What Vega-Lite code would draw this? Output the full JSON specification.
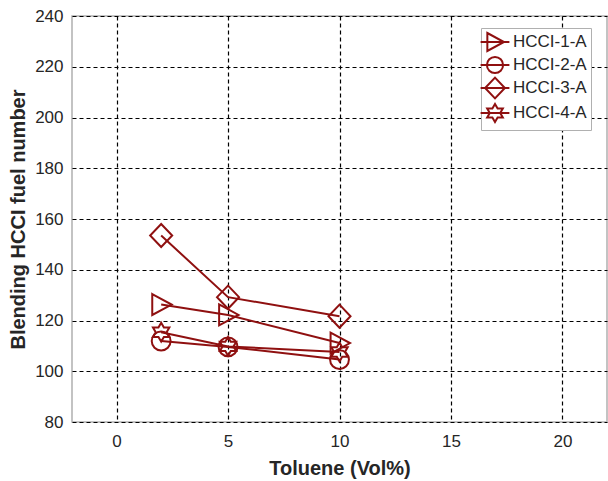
{
  "$schema": "https://vega.github.io/schema/vega-lite/v6.json",
  "autosize": "none",
  "width": 535,
  "height": 406,
  "padding": {"left": 72, "top": 16, "right": 1, "bottom": 59},
  "background": "white",
  "data": {
    "values": [
      {"series": "HCCI-1-A", "x": 2, "y": 126.3},
      {"series": "HCCI-1-A", "x": 5, "y": 122.2},
      {"series": "HCCI-1-A", "x": 10, "y": 111.1},
      {"series": "HCCI-2-A", "x": 2, "y": 111.9},
      {"series": "HCCI-2-A", "x": 5, "y": 109.6},
      {"series": "HCCI-2-A", "x": 10, "y": 104.6},
      {"series": "HCCI-3-A", "x": 2, "y": 153.5},
      {"series": "HCCI-3-A", "x": 5, "y": 129.2},
      {"series": "HCCI-3-A", "x": 10, "y": 121.7},
      {"series": "HCCI-4-A", "x": 2, "y": 115.4},
      {"series": "HCCI-4-A", "x": 5, "y": 109.8},
      {"series": "HCCI-4-A", "x": 10, "y": 107.6}
    ]
  },
  "config": {
    "view": {"stroke": "#b0b0b0", "strokeWidth": 1.5},
    "axis": {
      "labelFont": "Liberation Sans",
      "labelFontSize": 17,
      "labelColor": "#262626",
      "titleFont": "Liberation Sans",
      "titleFontSize": 20,
      "titleFontWeight": "bold",
      "titleColor": "#262626",
      "domain": false,
      "ticks": false,
      "grid": true,
      "gridColor": "black",
      "gridDash": [4, 3],
      "gridWidth": 1.2,
      "gridOpacity": 1
    }
  },
  "resolve": {"scale": {"shape": "independent"}, "legend": {"shape": "independent"}},
  "encoding": {
    "x": {
      "field": "x",
      "type": "quantitative",
      "scale": {"domain": [-2, 22], "nice": false, "zero": false},
      "axis": {"values": [0, 5, 10, 15, 20], "title": "Toluene (Vol%)", "labelPadding": 11, "titlePadding": 9}
    },
    "y": {
      "field": "y",
      "type": "quantitative",
      "scale": {"domain": [80, 240], "nice": false, "zero": false},
      "axis": {"values": [80, 100, 120, 140, 160, 180, 200, 220, 240], "title": "Blending HCCI fuel number", "labelPadding": 9, "titlePadding": 6}
    }
  },
  "layer": [
    {
      "mark": {"type": "line", "color": "#8f1010", "strokeWidth": 2},
      "encoding": {"detail": {"field": "series"}, "order": {"field": "x"}}
    },
    {
      "mark": {"type": "point", "filled": false, "color": "#8f1010", "strokeWidth": 2, "size": 440, "opacity": 1},
      "encoding": {
        "shape": {
          "field": "series",
          "type": "nominal",
          "scale": {
            "domain": ["HCCI-1-A", "HCCI-2-A", "HCCI-3-A", "HCCI-4-A"],
            "range": [
              "M-0.85,-1L1,0L-0.85,1Z",
              "M-0.9,0A0.9,0.9,0,1,1,0.9,0A0.9,0.9,0,1,1,-0.9,0Z",
              "M0,-1.1L1.05,0L0,1.1L-1.05,0Z",
              "M0,-0.9L0.26,-0.45L0.78,-0.45L0.52,0L0.78,0.45L0.26,0.45L0,0.9L-0.26,0.45L-0.78,0.45L-0.52,0L-0.78,-0.45L-0.26,-0.45Z"
            ]
          },
          "legend": null
        }
      }
    },
    {
      "mark": {"type": "point", "filled": false, "color": "#8f1010", "strokeWidth": 2, "size": 324, "opacity": 0},
      "encoding": {
        "shape": {
          "field": "series",
          "type": "nominal",
          "scale": {
            "domain": ["HCCI-1-A", "HCCI-2-A", "HCCI-3-A", "HCCI-4-A"],
            "range": [
              "M-0.85,-1L1,0L-0.85,1Z M-1.6,0H1.6",
              "M-0.9,0A0.9,0.9,0,1,1,0.9,0A0.9,0.9,0,1,1,-0.9,0Z M-1.6,0H1.6",
              "M0,-1.15L1.1,0L0,1.15L-1.1,0Z M-1.6,0H1.6",
              "M0,-1L0.29,-0.5L0.87,-0.5L0.58,0L0.87,0.5L0.29,0.5L0,1L-0.29,0.5L-0.87,0.5L-0.58,0L-0.87,-0.5L-0.29,-0.5Z M-1.6,0H1.6"
            ]
          },
          "legend": {
            "title": null,
            "orient": "none",
            "legendX": 409,
            "legendY": 12,
            "padding": 4,
            "strokeColor": "#b0b0b0",
            "fillColor": "white",
            "labelFont": "Liberation Sans",
            "labelFontSize": 17,
            "labelColor": "#262626",
            "labelOffset": 8,
            "rowPadding": -7,
            "symbolSize": 324,
            "symbolOpacity": 1,
            "symbolStrokeWidth": 2,
            "symbolStrokeColor": "#8f1010",
            "symbolFillColor": "transparent"
          }
        }
      }
    }
  ]
}
